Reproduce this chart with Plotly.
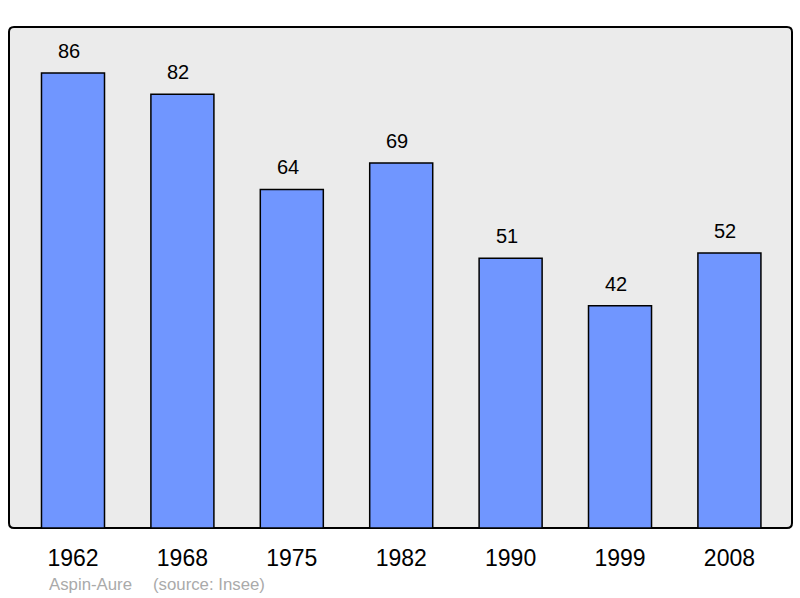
import plotly.graph_objects as go

years = ["1962", "1968", "1975", "1982", "1990", "1999", "2008"]
population = [86, 82, 64, 69, 51, 42, 52]

W, H = 800, 598
ml, mr, mt, mb = 9, 8, 27, 70
pw, ph = W - ml - mr, H - mt - mb
FONT = "Liberation Sans, Arial, sans-serif"

xs = list(range(len(years)))

fig = go.Figure()
fig.add_trace(go.Bar(
    x=xs, y=population, width=0.576,
    marker=dict(color="#7096FF", line=dict(color="#000000", width=1.5)),
    hoverinfo="skip",
))

# rounded frame
r = 5
rx, ry = r / pw, r / ph
path = (f"M {rx},0 L {1-rx},0 Q 1,0 1,{ry} L 1,{1-ry} Q 1,1 {1-rx},1 "
        f"L {rx},1 Q 0,1 0,{1-ry} L 0,{ry} Q 0,0 {rx},0 Z")
fig.add_shape(type="path", path=path, xref="paper", yref="paper",
              fillcolor="#EBEBEB", line=dict(color="#000000", width=2), layer="below")

for x, v in zip(xs, population):
    fig.add_annotation(x=x, y=v, text=str(v), showarrow=False, yanchor="bottom",
                       yshift=9, xshift=-4,
                       font=dict(size=20, color="#000000", family=FONT))

fig.add_annotation(x=(47 - ml) / pw, y=-0.112, xref="paper", yref="paper",
                   text="Aspin-Aure", showarrow=False, xanchor="left", yanchor="middle",
                   font=dict(size=16.8, color="#AAAAAA", family=FONT))
fig.add_annotation(x=(151 - ml) / pw, y=-0.112, xref="paper", yref="paper",
                   text="(source: Insee)", showarrow=False, xanchor="left", yanchor="middle",
                   font=dict(size=16.8, color="#AAAAAA", family=FONT))

fig.update_layout(
    width=W, height=H,
    margin=dict(l=ml, r=mr, t=mt, b=mb),
    paper_bgcolor="#FFFFFF", plot_bgcolor="rgba(0,0,0,0)",
    showlegend=False,
    xaxis=dict(range=[-0.585, 6.572], tickvals=xs, ticktext=years,
               showgrid=False, zeroline=False, showline=False, fixedrange=True,
               ticks="outside", ticklen=9, tickcolor="rgba(0,0,0,0)",
               tickfont=dict(size=23, color="#000000", family=FONT)),
    yaxis=dict(range=[0, 94.7], showgrid=False, zeroline=False, showline=False,
               showticklabels=False, fixedrange=True),
)

fig.write_html("out.html", config={"displayModeBar": False},
               post_script="document.body.style.margin='0';document.body.style.overflow='hidden';")
